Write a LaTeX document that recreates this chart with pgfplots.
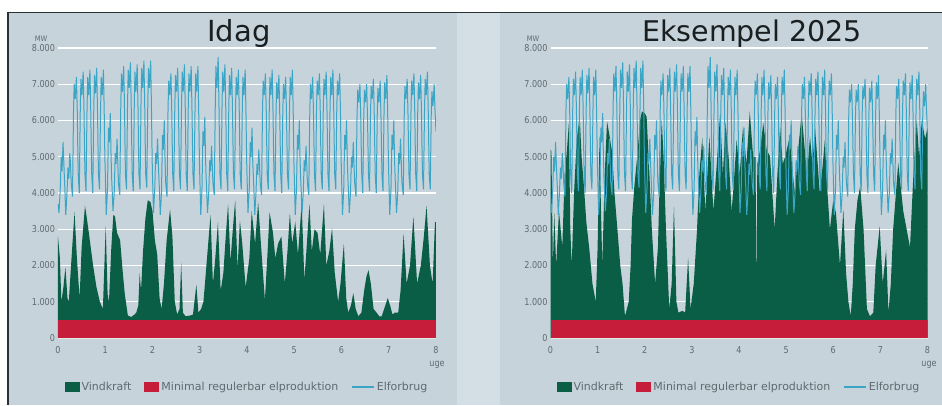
\documentclass[border=0pt]{standalone}
\usepackage{pgfplots}
\pgfplotsset{compat=1.18}
\usepackage{pgfplotstable}
\usepackage{fontspec}
\setmainfont{DejaVu Sans}
\definecolor{panelbg}{RGB}{198,211,218}
\definecolor{stripbg}{RGB}{212,223,229}
\definecolor{wind}{RGB}{10,94,70}
\definecolor{minred}{RGB}{198,30,58}
\definecolor{cons}{RGB}{58,165,196}
\definecolor{tickgray}{RGB}{95,105,112}
\definecolor{framec}{RGB}{40,50,55}

% Elforbrug (x in days, 7 days = 1 uge)
\pgfplotstableread[row sep=\\]{
x y\\
0.00 3700\\ 0.15 3450\\ 0.33 4100\\ 0.48 5000\\ 0.60 4600\\ 0.75 5400\\ 0.85 4900\\ 0.95 4400\\
1.00 4200\\ 1.15 3400\\ 1.33 4000\\ 1.48 4700\\ 1.60 4400\\ 1.75 5100\\ 1.85 4800\\ 1.95 4300\\
2.00 4200\\ 2.15 3900\\ 2.30 6300\\ 2.40 7000\\ 2.55 6600\\ 2.73 7200\\ 2.85 6300\\ 2.95 5000\\
3.00 4500\\ 3.15 4000\\ 3.30 6300\\ 3.40 7150\\ 3.55 6700\\ 3.73 7350\\ 3.85 6300\\ 3.95 5000\\
4.00 4500\\ 4.15 4050\\ 4.30 6300\\ 4.40 7200\\ 4.55 6700\\ 4.73 7400\\ 4.85 6300\\ 4.95 5000\\
5.00 4500\\ 5.15 4000\\ 5.30 6300\\ 5.40 7250\\ 5.55 6750\\ 5.73 7450\\ 5.85 6300\\ 5.95 5000\\
6.00 4500\\ 6.15 4100\\ 6.30 6200\\ 6.40 7200\\ 6.55 6700\\ 6.73 7400\\ 6.85 6200\\ 6.95 4900\\
7.00 4600\\ 7.15 3400\\ 7.33 4100\\ 7.48 5800\\ 7.60 5400\\ 7.75 6200\\ 7.85 5100\\ 7.95 4400\\
8.00 4200\\ 8.15 3500\\ 8.33 4000\\ 8.48 5100\\ 8.60 4800\\ 8.75 5500\\ 8.85 4900\\ 8.95 4300\\
9.00 4200\\ 9.15 3950\\ 9.30 6400\\ 9.40 7300\\ 9.55 6800\\ 9.73 7500\\ 9.85 6400\\ 9.95 5000\\
10.00 4500\\ 10.15 4100\\ 10.30 6400\\ 10.40 7400\\ 10.55 6900\\ 10.73 7600\\ 10.85 6400\\ 10.95 5000\\
11.00 4500\\ 11.15 4050\\ 11.30 6400\\ 11.40 7350\\ 11.55 6800\\ 11.73 7550\\ 11.85 6400\\ 11.95 5000\\
12.00 4500\\ 12.15 4100\\ 12.30 6500\\ 12.40 7450\\ 12.55 6900\\ 12.73 7650\\ 12.85 6400\\ 12.95 5000\\
13.00 4500\\ 13.15 4150\\ 13.30 6400\\ 13.40 7450\\ 13.55 6900\\ 13.73 7650\\ 13.85 6300\\ 13.95 4900\\
14.00 4500\\ 14.15 3450\\ 14.33 4100\\ 14.48 5100\\ 14.60 4800\\ 14.75 5500\\ 14.85 4900\\ 14.95 4400\\
15.00 4200\\ 15.15 3400\\ 15.33 4000\\ 15.48 5600\\ 15.60 5200\\ 15.75 6000\\ 15.85 5000\\ 15.95 4300\\
16.00 4200\\ 16.15 3900\\ 16.30 6300\\ 16.40 7100\\ 16.55 6700\\ 16.73 7300\\ 16.85 6300\\ 16.95 5000\\
17.00 4500\\ 17.15 4050\\ 17.30 6300\\ 17.40 7250\\ 17.55 6800\\ 17.73 7450\\ 17.85 6300\\ 17.95 5000\\
18.00 4500\\ 18.15 4100\\ 18.30 6400\\ 18.40 7350\\ 18.55 6800\\ 18.73 7550\\ 18.85 6400\\ 18.95 5000\\
19.00 4500\\ 19.15 4050\\ 19.30 6400\\ 19.40 7300\\ 19.55 6800\\ 19.73 7500\\ 19.85 6300\\ 19.95 5000\\
20.00 4500\\ 20.15 4100\\ 20.30 6300\\ 20.40 7300\\ 20.55 6800\\ 20.73 7500\\ 20.85 6200\\ 20.95 4900\\
21.00 4500\\ 21.15 3400\\ 21.33 4100\\ 21.48 5700\\ 21.60 5300\\ 21.75 6100\\ 21.85 5000\\ 21.95 4400\\
22.00 4200\\ 22.15 3450\\ 22.33 4000\\ 22.48 4900\\ 22.60 4600\\ 22.75 5300\\ 22.85 4800\\ 22.95 4300\\
23.00 4200\\ 23.15 3950\\ 23.30 6400\\ 23.40 7500\\ 23.55 6900\\ 23.73 7750\\ 23.85 6400\\ 23.95 5000\\
24.00 4500\\ 24.15 4100\\ 24.30 6400\\ 24.40 7350\\ 24.55 6800\\ 24.73 7550\\ 24.85 6400\\ 24.95 5000\\
25.00 4500\\ 25.15 4050\\ 25.30 6300\\ 25.40 7250\\ 25.55 6700\\ 25.73 7450\\ 25.85 6300\\ 25.95 5000\\
26.00 4500\\ 26.15 4100\\ 26.30 6300\\ 26.40 7200\\ 26.55 6700\\ 26.73 7400\\ 26.85 6300\\ 26.95 5000\\
27.00 4500\\ 27.15 4100\\ 27.30 6300\\ 27.40 7200\\ 27.55 6700\\ 27.73 7400\\ 27.85 6200\\ 27.95 4900\\
28.00 4500\\ 28.15 3450\\ 28.33 4100\\ 28.48 5400\\ 28.60 5000\\ 28.75 5800\\ 28.85 4900\\ 28.95 4400\\
29.00 4200\\ 29.15 3400\\ 29.33 4000\\ 29.48 4800\\ 29.60 4500\\ 29.75 5200\\ 29.85 4800\\ 29.95 4300\\
30.00 4200\\ 30.15 3950\\ 30.30 6300\\ 30.40 7100\\ 30.55 6700\\ 30.73 7300\\ 30.85 6300\\ 30.95 5000\\
31.00 4500\\ 31.15 4100\\ 31.30 6300\\ 31.40 7200\\ 31.55 6700\\ 31.73 7400\\ 31.85 6300\\ 31.95 5000\\
32.00 4500\\ 32.15 4050\\ 32.30 6200\\ 32.40 7050\\ 32.55 6600\\ 32.73 7250\\ 32.85 6200\\ 32.95 5000\\
33.00 4500\\ 33.15 4000\\ 33.30 6200\\ 33.40 7000\\ 33.55 6600\\ 33.73 7200\\ 33.85 6200\\ 33.95 5000\\
34.00 4500\\ 34.15 4100\\ 34.30 6300\\ 34.40 7200\\ 34.55 6700\\ 34.73 7400\\ 34.85 6200\\ 34.95 4900\\
35.00 4500\\ 35.15 3400\\ 35.33 4100\\ 35.48 5600\\ 35.60 5200\\ 35.75 6000\\ 35.85 5000\\ 35.95 4400\\
36.00 4200\\ 36.15 3450\\ 36.33 4000\\ 36.48 4900\\ 36.60 4600\\ 36.75 5300\\ 36.85 4800\\ 36.95 4300\\
37.00 4200\\ 37.15 3950\\ 37.30 6200\\ 37.40 7000\\ 37.55 6600\\ 37.73 7200\\ 37.85 6200\\ 37.95 5000\\
38.00 4500\\ 38.15 4050\\ 38.30 6300\\ 38.40 7100\\ 38.55 6700\\ 38.73 7300\\ 38.85 6300\\ 38.95 5000\\
39.00 4500\\ 39.15 4100\\ 39.30 6300\\ 39.40 7150\\ 39.55 6700\\ 39.73 7350\\ 39.85 6300\\ 39.95 5000\\
40.00 4500\\ 40.15 4050\\ 40.30 6300\\ 40.40 7200\\ 40.55 6700\\ 40.73 7400\\ 40.85 6300\\ 40.95 5000\\
41.00 4500\\ 41.15 4100\\ 41.30 6300\\ 41.40 7100\\ 41.55 6700\\ 41.73 7300\\ 41.85 6200\\ 41.95 4900\\
42.00 4500\\ 42.15 3400\\ 42.33 4100\\ 42.48 5600\\ 42.60 5200\\ 42.75 6000\\ 42.85 5000\\ 42.95 4400\\
43.00 4200\\ 43.15 3450\\ 43.33 4000\\ 43.48 5000\\ 43.60 4700\\ 43.75 5400\\ 43.85 4800\\ 43.95 4300\\
44.00 4200\\ 44.15 3900\\ 44.30 6100\\ 44.40 6850\\ 44.55 6500\\ 44.73 7000\\ 44.85 6100\\ 44.95 5000\\
45.00 4500\\ 45.15 4000\\ 45.30 6100\\ 45.40 6850\\ 45.55 6500\\ 45.73 7000\\ 45.85 6100\\ 45.95 5000\\
46.00 4500\\ 46.15 4050\\ 46.30 6200\\ 46.40 6950\\ 46.55 6600\\ 46.73 7150\\ 46.85 6200\\ 46.95 5000\\
47.00 4500\\ 47.15 4000\\ 47.30 6200\\ 47.40 6900\\ 47.55 6500\\ 47.73 7100\\ 47.85 6100\\ 47.95 5000\\
48.00 4500\\ 48.15 4050\\ 48.30 6200\\ 48.40 7050\\ 48.55 6600\\ 48.73 7250\\ 48.85 6100\\ 48.95 4900\\
49.00 4500\\ 49.15 3400\\ 49.33 4100\\ 49.48 5600\\ 49.60 5200\\ 49.75 6000\\ 49.85 5000\\ 49.95 4400\\
50.00 4200\\ 50.15 3450\\ 50.33 4000\\ 50.48 5100\\ 50.60 4800\\ 50.75 5500\\ 50.85 4900\\ 50.95 4300\\
51.00 4200\\ 51.15 3950\\ 51.30 6200\\ 51.40 6950\\ 51.55 6600\\ 51.73 7150\\ 51.85 6200\\ 51.95 5000\\
52.00 4500\\ 52.15 4100\\ 52.30 6300\\ 52.40 7100\\ 52.55 6700\\ 52.73 7300\\ 52.85 6300\\ 52.95 5000\\
53.00 4500\\ 53.15 4050\\ 53.30 6300\\ 53.40 7050\\ 53.55 6600\\ 53.73 7250\\ 53.85 6200\\ 53.95 5000\\
54.00 4500\\ 54.15 4100\\ 54.30 6300\\ 54.40 7150\\ 54.55 6700\\ 54.73 7350\\ 54.85 6300\\ 54.95 5000\\
55.00 4500\\ 55.15 4100\\ 55.30 6200\\ 55.40 6800\\ 55.55 6400\\ 55.73 7000\\ 55.85 6300\\ 55.95 5900\\
56.00 5700\\
}\elforbrug

% Vindkraft i dag
\pgfplotstableread[row sep=\\]{
x y\\
0 2800\\ 0.28 2200\\ 0.5 1000\\ 0.8 1400\\ 1.1 1950\\ 1.4 1100\\ 1.6 1000\\ 2.0 2200\\
2.45 3480\\ 2.8 2200\\ 3.2 1100\\ 3.5 2500\\ 4.0 3650\\ 4.2 3400\\ 4.5 3000\\ 5.2 2000\\
5.7 1400\\ 6.2 1000\\ 6.65 800\\ 7.07 3080\\ 7.35 1200\\ 7.55 1000\\ 7.9 2500\\ 8.2 3400\\
8.45 3350\\ 8.75 2900\\ 9.2 2700\\ 9.6 1800\\ 9.9 1200\\ 10.35 620\\ 10.85 580\\ 11.35 650\\
11.6 700\\ 11.9 900\\ 12.1 1800\\ 12.3 1300\\ 12.6 2400\\ 12.95 3300\\ 13.3 3800\\ 13.7 3750\\
14.0 3500\\ 14.35 2700\\ 14.7 2300\\ 15.05 1100\\ 15.35 800\\ 15.7 1500\\ 16.1 2700\\ 16.6 3550\\
16.95 2800\\ 17.3 1000\\ 17.65 650\\ 18.0 800\\ 18.25 2070\\ 18.5 700\\ 18.9 600\\ 19.6 620\\
20.0 650\\ 20.5 1470\\ 20.8 700\\ 21.2 800\\ 21.55 1000\\ 21.9 1800\\ 22.25 2600\\ 22.6 3400\\
22.95 1500\\ 23.3 2200\\ 23.7 3200\\ 24.1 1300\\ 24.5 1800\\ 24.85 2800\\ 25.2 3700\\ 25.55 2100\\
25.9 3000\\ 26.25 3800\\ 26.6 1900\\ 26.95 3240\\ 27.3 2600\\ 27.8 1400\\ 28.35 2200\\ 28.7 3500\\
29.2 2600\\ 29.65 3750\\ 30.1 2500\\ 30.65 1050\\ 31.0 2200\\ 31.35 3470\\ 31.85 2900\\ 32.2 2200\\
32.6 2600\\ 33.1 2800\\ 33.6 1500\\ 34.0 2400\\ 34.35 3440\\ 34.7 2600\\ 35.15 3210\\ 35.55 2300\\
36.1 3700\\ 36.5 1600\\ 36.8 2400\\ 37.25 3700\\ 37.6 2400\\ 38.0 3000\\ 38.45 2900\\ 38.85 2300\\
39.4 3700\\ 39.75 2000\\ 40.2 2400\\ 40.6 3030\\ 41.0 1800\\ 41.5 1000\\ 41.85 1500\\ 42.35 2600\\
42.7 1100\\ 43.0 700\\ 43.4 900\\ 43.75 1240\\ 44.1 800\\ 44.5 600\\ 44.95 700\\ 45.35 1300\\
45.7 1700\\ 46.0 1870\\ 46.35 1500\\ 46.75 800\\ 47.2 700\\ 47.6 600\\ 47.95 600\\ 48.5 900\\
48.85 1100\\ 49.2 900\\ 49.55 650\\ 49.9 700\\ 50.4 700\\ 50.75 1300\\ 51.2 2880\\ 51.65 1500\\
52.15 2000\\ 52.65 3350\\ 53.2 1500\\ 53.75 2000\\ 54.2 2800\\ 54.6 3650\\ 55.1 2000\\ 55.5 1500\\
55.85 3200\\ 56.0 3200\\
}\vindA

% Vindkraft eksempel 2025
\pgfplotstableread[row sep=\\]{
x y\\
0 5200\\ 0.14 5150\\ 0.35 2000\\ 0.56 3450\\ 0.84 2000\\ 1.26 3500\\ 1.75 2500\\ 2.1 4500\\
2.45 5200\\ 2.73 5930\\ 2.94 3000\\ 3.15 2000\\ 3.5 4000\\ 3.9 5500\\ 4.34 6110\\ 4.62 5000\\
4.97 4180\\ 5.32 3200\\ 5.74 2500\\ 6.23 1500\\ 6.72 1000\\ 7.0 2500\\ 7.28 5560\\ 7.5 3500\\
7.7 2000\\ 8.05 4500\\ 8.4 5980\\ 8.75 5600\\ 9.17 5100\\ 9.5 4000\\ 9.94 3000\\ 10.36 2000\\
10.7 1500\\ 11.06 600\\ 11.34 800\\ 11.62 1000\\ 11.9 2000\\ 12.1 3260\\ 12.46 4200\\ 12.88 5000\\
13.3 6000\\ 13.58 6250\\ 14.0 6200\\ 14.28 6100\\ 14.7 4500\\ 15.05 3000\\ 15.54 1500\\ 15.96 2500\\
16.17 4000\\ 16.52 6020\\ 16.8 5000\\ 17.15 3000\\ 17.64 800\\ 18.0 1500\\ 18.34 3630\\ 18.7 1000\\
19.0 700\\ 19.6 750\\ 20.0 700\\ 20.44 2210\\ 20.8 800\\ 21.28 1500\\ 21.77 3000\\ 22.1 4500\\
22.54 5520\\ 23.0 3500\\ 23.6 5560\\ 24.2 3500\\ 24.7 4800\\ 25.2 6210\\ 25.6 4500\\ 26.0 5950\\
26.46 5000\\ 26.9 3500\\ 27.16 4100\\ 27.65 5470\\ 28.1 4500\\ 28.6 5840\\ 29.1 4800\\ 29.6 6250\\
30.1 5000\\ 30.45 5000\\ 30.6 1100\\ 30.72 4800\\ 31.15 5200\\ 31.6 5930\\ 32.1 5200\\ 32.6 5010\\
33.3 3000\\ 33.7 4500\\ 34.1 5830\\ 34.5 4800\\ 34.85 5000\\ 35.55 5560\\ 36.0 4500\\ 36.3 4000\\
36.8 5200\\ 37.3 6200\\ 38.1 4500\\ 38.55 5560\\ 38.9 4800\\ 39.3 5800\\ 40.0 4000\\ 40.45 4800\\
40.75 5470\\ 41.15 4000\\ 41.5 3000\\ 42.0 3800\\ 42.4 3450\\ 43.0 2000\\ 43.5 3550\\ 43.9 1800\\
44.25 1000\\ 44.6 600\\ 44.9 1500\\ 45.2 3000\\ 45.6 3800\\ 46.0 4180\\ 46.5 3000\\ 47.0 800\\
47.45 600\\ 47.95 700\\ 48.3 2000\\ 48.9 3080\\ 49.35 1500\\ 49.85 2430\\ 50.2 700\\ 50.55 1500\\
50.9 3000\\ 51.65 4830\\ 52.4 3500\\ 52.9 3000\\ 53.4 2500\\ 53.9 4500\\ 54.4 6020\\ 54.75 5000\\
55.15 6000\\ 55.65 5500\\ 56.0 5800\\
}\vindB

\pgfplotsset{
  panel/.style={
    scale only axis, height=290pt,
    xmin=0, xmax=56, ymin=0, ymax=8000,
    xtick={0,7,14,21,28,35,42,49,56},
    xticklabels={0,1,2,3,4,5,6,7,8},
    ytick={0,1000,2000,3000,4000,5000,6000,7000,8000},
    axis line style={draw=none},
    major tick length=0pt,
    ymajorgrids, grid style={white, line width=1.1pt},
    tick label style={font=\fontsize{9.5}{10}\selectfont, text=tickgray, xscale=0.85},
    xticklabel style={yshift=-5pt},
    /pgf/number format/.cd, fixed, 1000 sep={.}, assume math mode=true,
    /pgfplots/.cd,
    legend columns=3,
    legend style={draw=none, fill=none, at={(0.5,-0.169)}, anchor=center,
      font=\fontsize{11}{12}\selectfont, text=tickgray,
      /tikz/every even column/.append style={column sep=11pt}},
    legend cell align=left,
  },
  boxleg/.style={legend image code/.code={\fill[##1] (0pt,-5pt) rectangle (15pt,5.5pt);}},
  lineleg/.style={legend image code/.code={\draw[draw=cons, line width=1.5pt] (0pt,0pt) -- (22pt,0pt);}},
}

\begin{document}
\begin{tikzpicture}[x=1pt,y=1pt]
\useasboundingbox (0,0) rectangle (942,405);
\fill[white] (0,0) rectangle (942,405);
\fill[panelbg] (8,0) rectangle (457,392.5);
\fill[stripbg] (457,0) rectangle (500,392.5);
\fill[panelbg] (500,0) rectangle (942,392.5);
\draw[framec, line width=1.5pt] (8,0) -- (8,392.5) -- (942,392.5);

\begin{axis}[panel, at={(58pt,67pt)}, anchor=south west, width=378pt]
\addplot[fill=wind, draw=none, boxleg] table[x=x,y=y] {\vindA} \closedcycle;
\addplot[fill=minred, draw=none, boxleg] coordinates {(0,500) (56,500)} \closedcycle;
\addplot[cons, line width=1pt, lineleg] table[x=x,y=y] {\elforbrug};
\legend{Vindkraft, Minimal regulerbar elproduktion, Elforbrug}
\end{axis}

\begin{axis}[panel, at={(550.5pt,67pt)}, anchor=south west, width=377pt]
\addplot[fill=wind, draw=none, boxleg] table[x=x,y=y] {\vindB} \closedcycle;
\addplot[fill=minred, draw=none, boxleg] coordinates {(0,500) (56,500)} \closedcycle;
\addplot[cons, line width=1pt, lineleg] table[x=x,y=y] {\elforbrug};
\legend{Vindkraft, Minimal regulerbar elproduktion, Elforbrug}
\end{axis}

\node[anchor=base, font=\fontsize{29}{32}\selectfont, text={rgb,255:red,25;green,30;blue,32}] at (239,363) {Idag};
\node[anchor=base, font=\fontsize{28.5}{32}\selectfont, text={rgb,255:red,25;green,30;blue,32}] at (752,363) {Eksempel 2025};
\node[font=\fontsize{7.5}{8}\selectfont, text=tickgray, xscale=0.9] at (41,366.5) {MW};
\node[font=\fontsize{7.5}{8}\selectfont, text=tickgray, xscale=0.9] at (533,366.5) {MW};
\node[font=\fontsize{9.5}{10}\selectfont, text=tickgray, xscale=0.85] at (437,40) {uge};
\node[font=\fontsize{9.5}{10}\selectfont, text=tickgray, xscale=0.85] at (929,40) {uge};
\end{tikzpicture}
\end{document}
